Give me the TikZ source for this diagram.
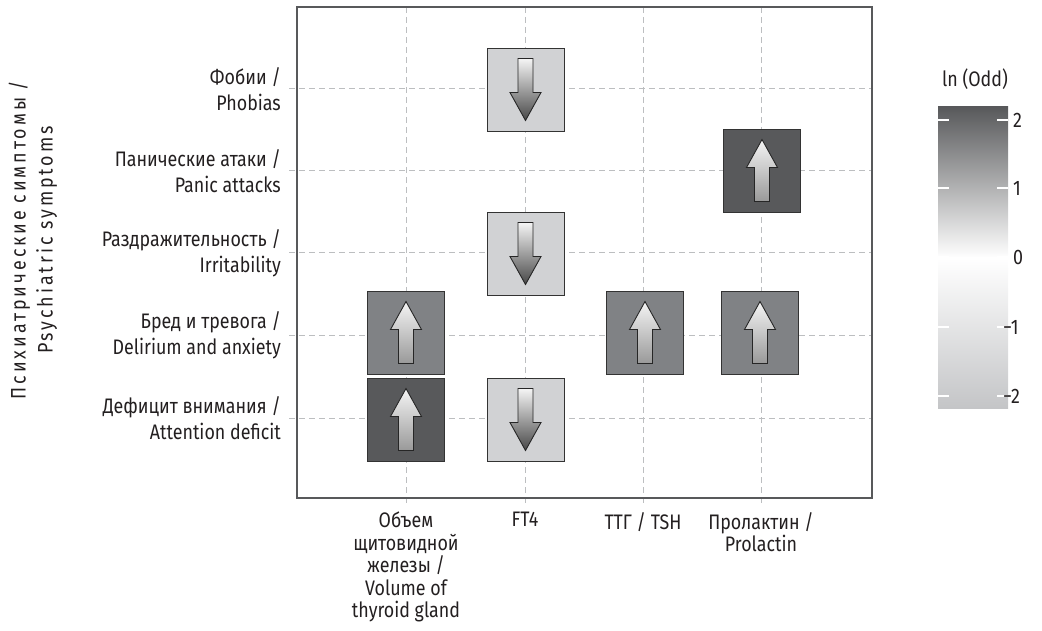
\documentclass[tikz,border=0pt]{standalone}
\usepackage{fontspec}
\setmainfont[FakeStretch=0.85]{Fira Sans}
\newfontfamily\spacedfont[FakeStretch=0.85,LetterSpace=14]{Fira Sans}
\usepackage{tikz}

\definecolor{tilelight}{HTML}{D1D2D4}
\definecolor{tilemid}{HTML}{808285}
\definecolor{tiledark}{HTML}{58595B}
\definecolor{gridgray}{HTML}{BCBEC0}
\definecolor{framegray}{HTML}{58595B}
\definecolor{inkgray}{HTML}{231F20}
\definecolor{cbmid}{HTML}{A3A4A7}
\definecolor{cblowmid}{HTML}{E6E7E8}
\definecolor{cblow}{HTML}{C4C5C7}

\tikzset{
	lbl/.style = {font=\fontsize{21}{26}\selectfont, text=inkgray, inner sep=0pt},
	ylbl/.style = {lbl, anchor=east, align=right},
	xlbl/.style = {lbl, anchor=north, align=center, font=\fontsize{21}{22.5}\selectfont},
	tilebox/.style = {draw=black!80, line width=0.9pt, minimum width=77pt, minimum height=83pt, inner sep=0pt},
	gridline/.style = {gridgray, dash pattern=on 6pt off 4pt, line width=1pt},
	arrowup/.style = {draw=black!85, line width=0.9pt, top color=white!96!black, bottom color=black!40},
	arrowdown/.style = {draw=black!85, line width=0.9pt, top color=white!96!black, bottom color=black!72}
}

\begin{document}
\begin{tikzpicture}[x=1pt, y=-1pt]
			\useasboundingbox (0,0) rectangle (1042,631);
			% grid
			\foreach \gx in {406,525,643,761}
				\draw[gridline] (\gx,7) -- (\gx,506);
			\foreach \gy in {89,171,253,335,418}
				\draw[gridline] (289,\gy) -- (872,\gy);
			% outline
			\draw[framegray, line width=1.5pt] (297,7) rectangle (872,498);
			% tiles
			\foreach \px/\py/\tc/\st/\dir [count=\i] in {
					525.5/89.5/tilelight/arrowdown/-1,
					762/170.5/tiledark/arrowup/1,
					525.5/253.5/tilelight/arrowdown/-1,
					406/332.5/tilemid/arrowup/1,
					645/332.5/tilemid/arrowup/1,
					760/332.5/tilemid/arrowup/1,
					406/419.5/tiledark/arrowup/1,
					525.5/419.5/tilelight/arrowdown/-1} {
				\node[tilebox, fill=\tc] (tile\i) at (\px,\py) {};
				\shadedraw[\st, shift={(tile\i.center)}, yscale=\dir]
					(0,-31) -- (15.5,-3) -- (7.5,-3) -- (7.5,31)
					-- (-7.5,31) -- (-7.5,-3) -- (-15.5,-3) -- cycle;
			}
			% row labels
			\node[ylbl] (phobias) at (281,89) {Фобии /\\Phobias};
			\node[ylbl] (panic) at (281,171) {Панические атаки /\\Panic attacks};
			\node[ylbl] (irrit) at (281,253) {Раздражительность /\\Irritability};
			\node[ylbl] (delir) at (281,335) {Бред и тревога /\\Delirium and anxiety};
			\node[ylbl] (attent) at (281,418) {Дефицит внимания /\\Attention deficit};
			\node[lbl, rotate=90, align=center, font=\spacedfont\fontsize{21}{27}\selectfont] (ytitle) at (33,240)
				{Психиатрические симптомы /\\Psychiatric symptoms};
			% column labels
			\node[xlbl] (volume) at (406,512) {Объем\\щитовидной\\железы /\\Volume of\\thyroid gland};
			\node[xlbl] (ft4) at (525,512) {FT4};
			\node[xlbl] (tsh) at (643,512) {ТТГ / TSH};
			\node[xlbl] (prl) at (761,512) {Пролактин /\\Prolactin};
			% colour bar
			\shade[top color=tiledark, middle color=cbmid, bottom color=white] (938,107) rectangle (1008,258);
			\shade[top color=white, middle color=cblowmid, bottom color=cblow] (938,258) rectangle (1008,408);
			\foreach \ty in {120,188,257,327,396}
				\draw[white, line width=1.5pt] (938,\ty) -- ++(11,0) (997,\ty) -- ++(11,0);
			\node[lbl] (cbtitle) at (975,79) {ln (Odd)};
			\node[lbl, anchor=west] (cbtwo) at (1013,120) {2};
			\node[lbl, anchor=west] (cbone) at (1013,188) {1};
			\node[lbl, anchor=west] (cbzero) at (1013,257) {0};
			\node[lbl, anchor=west] (cbmone) at (1003,327) {−1};
			\node[lbl, anchor=west] (cbmtwo) at (1003,396) {−2};
		\end{tikzpicture}
\end{document}
